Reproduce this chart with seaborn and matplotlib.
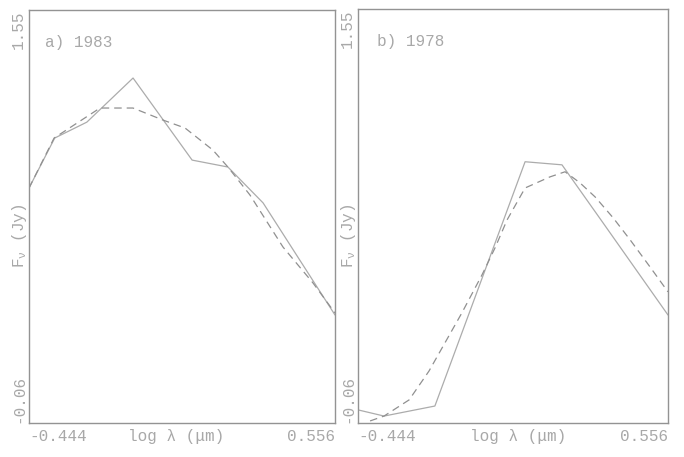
import matplotlib
matplotlib.use("Agg")
import matplotlib.pyplot as plt
import seaborn as sns
import pandas as pd

# Panel a) 1983 : observed photometry (solid) and model (dashed)
obs_a_x = [-0.444, -0.360, -0.255, -0.104, 0.089, 0.206, 0.321, 0.556]
obs_a_y = [0.856, 1.051, 1.113, 1.285, 0.965, 0.938, 0.798, 0.361]
mod_a_x = [-0.444, -0.362, -0.212, -0.104, -0.006, 0.066, 0.157, 0.206,
           0.278, 0.386, 0.484, 0.556]
mod_a_y = [0.856, 1.051, 1.168, 1.168, 1.121, 1.090, 1.004, 0.938,
           0.829, 0.626, 0.486, 0.369]

# Panel b) 1978
obs_b_x = [-0.444, -0.360, -0.196, 0.095, 0.214, 0.342, 0.556]
obs_b_y = [-0.009, -0.033, 0.006, 0.956, 0.944, 0.726, 0.360]
mod_b_x = [-0.405, -0.360, -0.279, -0.215, -0.109, -0.044, -0.002, 0.037,
           0.095, 0.175, 0.224, 0.272, 0.321, 0.379, 0.434, 0.498, 0.556]
mod_b_y = [-0.052, -0.033, 0.030, 0.142, 0.368, 0.516, 0.621, 0.730,
           0.854, 0.897, 0.917, 0.874, 0.819, 0.738, 0.652, 0.547, 0.450]

panel_titles = ["a) 1983", "b) 1978"]
x_ticks = [-0.444, 0.556]
y_ticks = [-0.06, 1.55]
x_tick_labels = ["-0.444", "0.556"]
y_tick_labels = ["-0.06", "1.55"]

sns.set_style("white")
plt.rcParams["font.family"] = ["Liberation Mono", "DejaVu Sans Mono"]
plt.rcParams["mathtext.fontset"] = "custom"
plt.rcParams["mathtext.rm"] = "Liberation Mono"
plt.rcParams["mathtext.it"] = "Liberation Mono"

TXT = "#a8a8a8"
FRAME = "#939393"
SOLID = "#acacac"
DASH = "#909090"
FS = 11.5

fig = plt.figure(figsize=(6.84, 4.57), dpi=100)
ax_a = fig.add_axes([0.0424, 0.0744, 0.4474, 0.9036])
ax_b = fig.add_axes([0.5234, 0.0744, 0.4532, 0.9059])

panels = [
    (ax_a, obs_a_x, obs_a_y, mod_a_x, mod_a_y, panel_titles[0], 0.052, 0.48),
    (ax_b, obs_b_x, obs_b_y, mod_b_x, mod_b_y, panel_titles[1], 0.061, 0.516),
]

for ax, ox, oy, mx, my, title, tx, lx in panels:
    obs = pd.DataFrame({"logl": ox, "flux": oy})
    mod = pd.DataFrame({"logl": mx, "flux": my})
    sns.lineplot(data=obs, x="logl", y="flux", ax=ax, color=SOLID,
                 linewidth=0.9, sort=False, estimator=None)
    sns.lineplot(data=mod, x="logl", y="flux", ax=ax, color=DASH,
                 linewidth=0.9, sort=False, estimator=None,
                 dashes=False)
    ax.lines[-1].set_dashes([6, 4])

    ax.set_xlim(x_ticks[0], x_ticks[1])
    ax.set_ylim(y_ticks[0], y_ticks[1])
    for s in ax.spines.values():
        s.set_color(FRAME)
        s.set_linewidth(1.0)

    ax.set_xticks(x_ticks)
    ax.set_xticklabels(x_tick_labels, fontsize=FS, color=TXT)
    xl = ax.get_xticklabels()
    xl[0].set_ha("left")
    xl[1].set_ha("right")
    ax.set_yticks(y_ticks)
    ax.set_yticklabels(y_tick_labels, fontsize=FS, color=TXT, rotation=90)
    yl = ax.get_yticklabels()
    yl[0].set_va("bottom")
    yl[1].set_va("top")
    ax.tick_params(axis="both", length=0, pad=4)
    ax.tick_params(axis="y", pad=2)

    ax.set_xlabel("")
    ax.set_ylabel("")
    ax.text(lx, -0.0315, "log λ (μm)", transform=ax.transAxes, ha="center",
            va="center", fontsize=FS, color=TXT)
    ax.text(-0.03, 0.453, r"F$_{\nu}$ (Jy)", transform=ax.transAxes,
            ha="center", va="center", rotation=90, fontsize=FS, color=TXT)
    ax.text(tx, 0.922, title, transform=ax.transAxes, ha="left",
            va="center", fontsize=FS, color=TXT)

fig.savefig("out.png", dpi=100)
